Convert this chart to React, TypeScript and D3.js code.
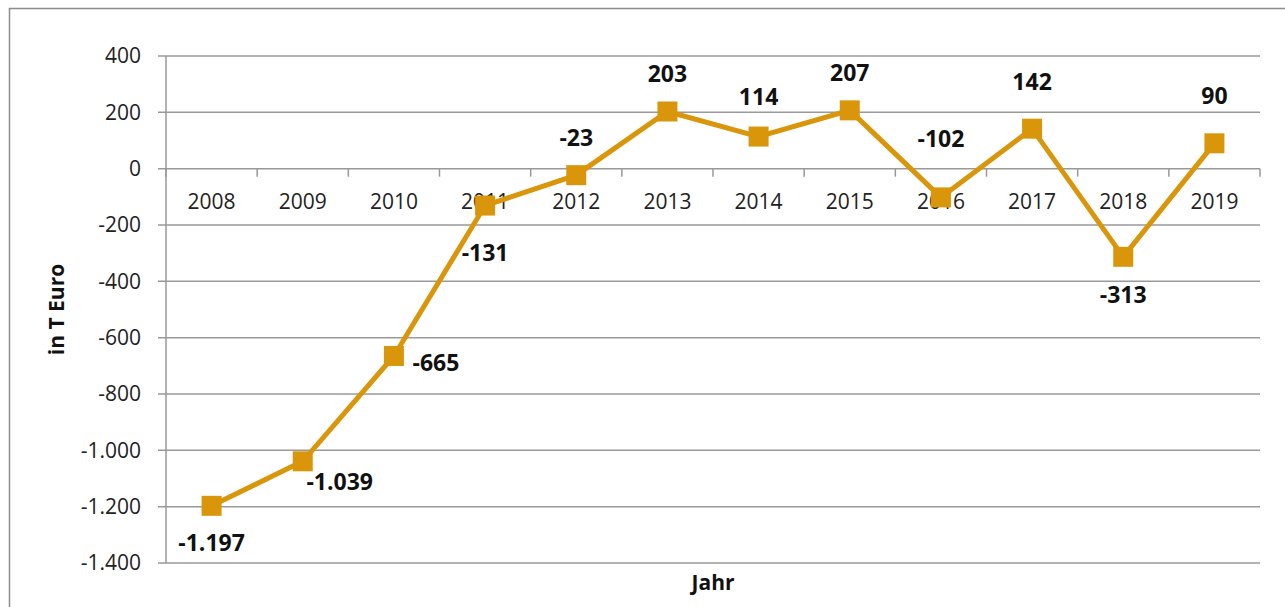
import { useMemo } from "react";
import { line, scaleBand, scaleLinear } from "d3";

const W = 1285;
const H = 607;
const M = { top: 56, right: 25, bottom: 44, left: 166 };

const years = ["2008", "2009", "2010", "2011", "2012", "2013", "2014", "2015", "2016", "2017", "2018", "2019"];
const values = [-1197, -1039, -665, -131, -23, 203, 114, 207, -102, 142, -313, 90];
const valueLabels = ["-1.197", "-1.039", "-665", "-131", "-23", "203", "114", "207", "-102", "142", "-313", "90"];
const yTicks = [400, 200, 0, -200, -400, -600, -800, -1000, -1200, -1400];
const yTickLabels = ["400", "200", "0", "-200", "-400", "-600", "-800", "-1.000", "-1.200", "-1.400"];

// label offsets from the marker, px (layout only)
const labelOffsets: Array<[number, number]> = [
  [0, 37], [37, 21], [42, 7], [0, 47], [0, -37], [0, -38],
  [0, -40], [0, -37], [0, -58], [0, -47], [0, 38], [0, -47],
];

const COLOR = "#D9960A";
const GRID = "#999";
const FONT = "'Open Sans', 'DejaVu Sans', sans-serif";

export default function App() {
  const x = useMemo(
    () => scaleBand<string>().domain(years).range([M.left, W - M.right]).padding(0),
    []
  );
  const y = useMemo(
    () => scaleLinear().domain([-1400, 400]).range([H - M.bottom, M.top]),
    []
  );
  const cx = (yr: string) => (x(yr) ?? 0) + x.bandwidth() / 2;

  const pts = years.map((yr, i) => ({ yr, v: values[i] }));
  const path = line<{ yr: string; v: number }>()
    .x((d) => cx(d.yr))
    .y((d) => y(d.v))(pts);

  const y0 = y(0);
  const bounds = [...years.map((yr) => x(yr) ?? 0), W - M.right];

  return (
    <div style={{ position: "fixed", left: 0, top: 0, width: W, height: H, overflow: "hidden", background: "#fff" }}>
      <svg width={W} height={H} style={{ display: "block", fontFamily: FONT }}>
        <rect x={9.5} y={8.5} width={W + 20} height={H + 20} fill="none" stroke="#8c8c8c" strokeWidth={1.5} />

        {yTicks.map((t, i) => (
          <g key={t}>
            <line x1={M.left - 8} x2={W - M.right} y1={y(t)} y2={y(t)} stroke={GRID} strokeWidth={1.5} />
            <text x={141} y={y(t)} dy="0.35em" textAnchor="end" fontSize={21} fill="#222">
              {yTickLabels[i]}
            </text>
          </g>
        ))}

        <line x1={M.left} x2={M.left} y1={y(400)} y2={y(-1400)} stroke={GRID} strokeWidth={1.5} />

        {bounds.map((b, i) => (
          <line key={i} x1={b} x2={b} y1={y0} y2={y0 + 8} stroke={GRID} strokeWidth={1.5} />
        ))}

        {years.map((yr) => (
          <text key={yr} x={cx(yr)} y={y0 + 33} dy="0.35em" textAnchor="middle" fontSize={21} fill="#222">
            {yr}
          </text>
        ))}

        <path d={path ?? undefined} fill="none" stroke={COLOR} strokeWidth={5} strokeLinejoin="miter" />

        {pts.map((p) => (
          <rect key={p.yr} x={cx(p.yr) - 10} y={y(p.v) - 10} width={20} height={20} fill={COLOR} />
        ))}

        {pts.map((p, i) => (
          <text
            key={p.yr}
            x={cx(p.yr) + labelOffsets[i][0]}
            y={y(p.v) + labelOffsets[i][1]}
            dy="0.35em"
            textAnchor="middle"
            fontSize={23}
            fontWeight="bold"
            fill="#111"
          >
            {valueLabels[i]}
          </text>
        ))}

        <text
          transform={`translate(57, ${(y(400) + y(-1400)) / 2}) rotate(-90)`}
          dy="0.35em"
          textAnchor="middle"
          fontSize={21}
          fontWeight="bold"
          fill="#111"
        >
          in T Euro
        </text>
        <text x={(M.left + W - M.right) / 2} y={583} dy="0.35em" textAnchor="middle" fontSize={21} fontWeight="bold" fill="#111">
          Jahr
        </text>
      </svg>
    </div>
  );
}
